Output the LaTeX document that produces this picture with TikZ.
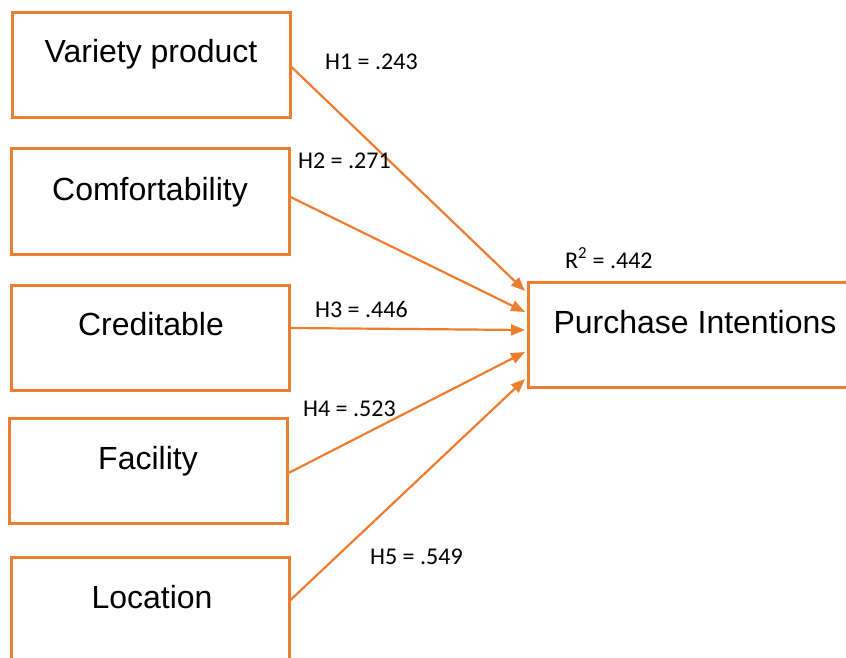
\documentclass[tikz,border=0pt]{standalone}
\usepackage{fontspec}
\setmainfont{Liberation Sans}
\newfontfamily\pathfont{Carlito}
\usetikzlibrary{arrows.meta,calc}
\definecolor{pathorange}{HTML}{ED7D31}
\begin{document}
\begin{tikzpicture}[x=1pt,y=-1pt,
  construct/.style={draw=pathorange,line width=3pt,minimum width=278pt,minimum height=105pt,inner sep=0pt},
  boxlabel/.style={anchor=base,inner sep=0pt,font=\fontsize{32}{37}\selectfont},
  coef/.style={anchor=base west,inner sep=0pt,font=\pathfont\fontsize{24}{28}\selectfont},
  path/.style={draw=pathorange,line width=2.2pt,-{Triangle[length=14pt,width=11pt]}}]
\useasboundingbox (0,0) rectangle (846,658);
\clip (0,0) rectangle (846,658);
% predictor constructs
\node[construct] (vp) at (151,65) {};
\node[construct] (cf) at (150,201.5) {};
\node[construct] (cr) at (150.5,337.5) {};
\node[construct] (fa) at (148,470.5) {};
\node[construct] (lo) at (150,609.5) {};
% outcome construct
\node[construct,minimum width=340pt] (pi) at (698,334.5) {};
% construct names
\node[boxlabel] (vpt) at (151,63) {Variety product};
\node[boxlabel] (cft) at (150,200) {Comfortability};
\node[boxlabel] (crt) at (151,335) {Creditable};
\node[boxlabel] (fat) at (148,469) {Facility};
\node[boxlabel] (lot) at (152,608) {Location};
\node[boxlabel] (pit) at (695,333) {Purchase Intentions};
% structural paths
\draw[path] ($(vp.east)+(0,2)$) -- ($(pi.west)+(-1.5,-43.5)$);
\draw[path] ($(cf.east)+(0,-4.5)$) -- ($(pi.west)+(-1.5,-22.5)$);
\draw[path] ($(cr.east)+(0,-9.5)$) -- ($(pi.west)+(-1.5,-4.5)$);
\draw[path] ($(fa.east)+(0,2.5)$) -- ($(pi.west)+(-1.5,17.5)$);
\draw[path] ($(lo.east)+(0,-9.5)$) -- ($(pi.west)+(-1.5,44.5)$);
% path coefficients
\node[coef] (h1) at (325,70) {H1 = .243};
\node[coef] (h2) at (298,168) {H2 = .271};
\node[coef] (h3) at (315,317) {H3 = .446};
\node[coef] (h4) at (303,416) {H4 = .523};
\node[coef] (h5) at (370,564) {H5 = .549};
\node[coef] (r2) at (565,268) {R\textsuperscript{2} = .442};
\end{tikzpicture}
\end{document}
